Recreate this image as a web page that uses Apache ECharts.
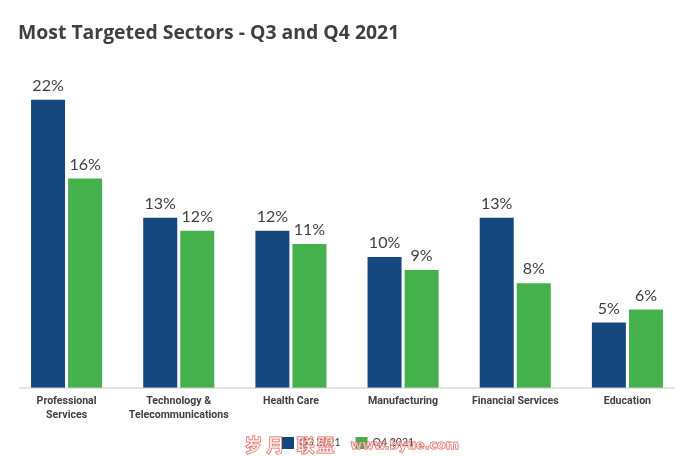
<!DOCTYPE html>
<html>
<head>
<meta charset="utf-8">
<style>
html, body { margin: 0; padding: 0; background: #fff; }
#chart { width: 700px; height: 456px; }
</style>
<script src="https://cdn.jsdelivr.net/npm/echarts@6/dist/echarts.min.js"></script>
</head>
<body>
<div id="chart"></div>
<script>
// data
var categories = ['Professional\nServices', 'Technology &\nTelecommunications', 'Health Care', 'Manufacturing', 'Financial Services', 'Education'];
var q3Values = [22, 13, 12, 10, 13, 5];
var q4Values = [16, 12, 11, 9, 8, 6];
var seriesNames = ['Q3 2021', 'Q4 2021'];

var myChart = echarts.init(document.getElementById('chart'), null, { renderer: 'canvas' });

function barSeries(name, values, color) {
    return {
        name: name,
        type: 'bar',
        data: values,
        barWidth: 34,
        barGap: '9%',
        itemStyle: { color: color },
        label: {
            show: true,
            position: 'top',
            distance: 6,
            formatter: '{c}%',
            color: '#404040',
            fontFamily: 'Lato',
            fontSize: 16
        }
    };
}

// watermark glyphs sit over the legend
function watermark(text, x, y, size, font) {
    return {
        type: 'text', z: 100, left: x, top: y,
        style: { text: text, fill: 'rgba(255,255,255,0.5)', stroke: '#dc5a4e', lineWidth: 1, fontFamily: font, fontSize: size, fontWeight: 'bold' }
    };
}

var option = {
    animation: false,
    backgroundColor: '#fff',
    title: {
        text: 'Most Targeted Sectors - Q3 and Q4 2021',
        left: 13,
        top: 19,
        textStyle: { color: '#404040', fontFamily: 'Open Sans', fontWeight: 'bold', fontSize: 19.4 }
    },
    legend: {
        data: seriesNames,
        icon: 'rect',
        left: 277,
        top: 432,
        itemWidth: 12,
        itemHeight: 12,
        itemGap: 15,
        textStyle: { color: '#404040', fontFamily: 'Lato', fontSize: 10.5 }
    },
    grid: { left: 10.5, right: 16.5, top: 60.5, bottom: 68 },
    xAxis: {
        type: 'category',
        data: categories,
        axisLine: { show: false },
        axisTick: { show: false },
        axisLabel: {
            interval: 0,
            margin: 6,
            lineHeight: 14.5,
            color: '#404040',
            fontFamily: 'Roboto',
            fontWeight: 'bold',
            fontSize: 10.6
        }
    },
    yAxis: { type: 'value', min: 0, max: 25, show: false },
    graphic: [
        { type: 'line', z: 5, shape: { x1: 19, y1: 388, x2: 675, y2: 388 }, style: { stroke: '#c8c8c8', lineWidth: 1 } },
        watermark('岁', 244, 436, 18, 'Noto Sans CJK SC'),
        watermark('月', 266, 436, 18, 'Noto Sans CJK SC'),
        watermark('联', 296, 436, 18, 'Noto Sans CJK SC'),
        watermark('盟', 316, 436, 18, 'Noto Sans CJK SC'),
        watermark('www.byue.com', 350, 439, 12.7, 'DejaVu Sans')
    ],
    series: [
        barSeries(seriesNames[0], q3Values, '#15477c'),
        barSeries(seriesNames[1], q4Values, '#44b14c')
    ]
};

myChart.setOption(option);
</script>
</body>
</html>
